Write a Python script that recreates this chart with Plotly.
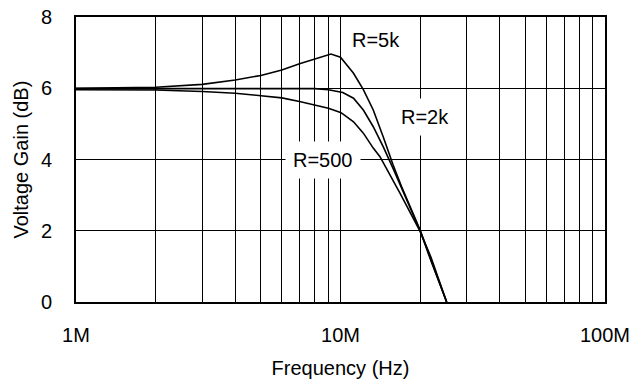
import math
import plotly.graph_objects as go

# Frequency (Hz) and gain (dB)
freq_5k = [1e6, 2e6, 3e6, 4e6, 5e6, 6e6, 7e6, 8e6, 9e6, 9.2e6, 10e6, 11.2e6, 12.2e6, 13.3e6, 14.5e6, 15.8e6, 17e6, 20e6, 22e6, 25.2e6]
gain_5k = [6.0, 6.03, 6.11, 6.23, 6.36, 6.51, 6.69, 6.83, 6.94, 6.96, 6.87, 6.42, 5.96, 5.39, 4.64, 3.85, 3.25, 2.02, 1.17, 0.0]

freq_2k = [1e6, 2e6, 3e6, 4e6, 5e6, 6e6, 7e6, 8e6, 9e6, 10e6, 10.2e6, 11.2e6, 12.2e6, 13.3e6, 14.5e6, 15.8e6, 17e6, 20e6, 22e6, 25.2e6]
gain_2k = [5.99, 5.99, 5.99, 5.99, 5.99, 5.99, 5.99, 5.99, 5.96, 5.9, 5.88, 5.72, 5.39, 4.92, 4.36, 3.75, 3.2, 2.0, 1.15, 0.0]

freq_500 = [1e6, 2e6, 3e6, 4e6, 5e6, 6e6, 7e6, 8e6, 9e6, 10e6, 10.2e6, 11.2e6, 12.2e6, 13.3e6, 14.1e6, 16.8e6, 20e6, 22e6, 25.2e6]
gain_500 = [5.96, 5.95, 5.91, 5.86, 5.79, 5.73, 5.63, 5.53, 5.44, 5.32, 5.28, 5.06, 4.74, 4.32, 4.08, 3.05, 1.98, 1.25, 0.0]

x_tickvals = [1e6, 1e7, 1e8]
x_ticktext = ["1M", "10M", "100M"]
x_minor = [m * d for d in (1e6, 1e7) for m in range(2, 10)]
y_tickvals = [0, 2, 4, 6, 8]

labels = [("R=5k", 13.6e6, 7.36), ("R=2k", 20.9e6, 5.2), ("R=500", 8.6e6, 4.0)]

FONT = "Liberation Sans, Arial, sans-serif"
FS = 20

fig = go.Figure()
for fx, gy in [(freq_5k, gain_5k), (freq_2k, gain_2k), (freq_500, gain_500)]:
    fig.add_trace(go.Scatter(x=fx, y=gy, mode="lines", line=dict(color="black", width=1.6), showlegend=False))

for text, lx, ly in labels:
    fig.add_annotation(x=math.log10(lx), y=ly, text=text, showarrow=False,
                       bgcolor="white", borderpad=7, font=dict(family=FONT, size=FS, color="black"))

# y-axis title placed like the reference
fig.add_annotation(xref="paper", yref="paper", x=-56 / 529, y=0.5, text="Voltage Gain (dB)",
                   textangle=-90, showarrow=False, xanchor="center", yanchor="middle",
                   font=dict(family=FONT, size=FS, color="black"))

fig.update_layout(
    width=633, height=383,
    margin=dict(l=76, r=28, t=17, b=81),
    paper_bgcolor="white", plot_bgcolor="white",
    font=dict(family=FONT, size=FS, color="black"),
)
fig.update_xaxes(
    type="log", range=[6, 8], automargin=False,
    tickvals=x_tickvals, ticktext=x_ticktext,
    showgrid=True, gridcolor="black", gridwidth=1,
    minor=dict(tickvals=x_minor, showgrid=True, gridcolor="black", gridwidth=1, ticks=""),
    showline=True, linecolor="black", linewidth=2, mirror=True,
    ticks="", ticklabelstandoff=14,
    title=dict(text="Frequency (Hz)", standoff=16, font=dict(size=FS)),
    zeroline=False,
)
fig.update_yaxes(
    range=[0, 8], tickvals=y_tickvals, automargin=False,
    showgrid=True, gridcolor="black", gridwidth=1,
    showline=True, linecolor="black", linewidth=2, mirror=True,
    ticks="", ticklabelstandoff=18,
    zeroline=False,
)

fig.write_html("out.html")
